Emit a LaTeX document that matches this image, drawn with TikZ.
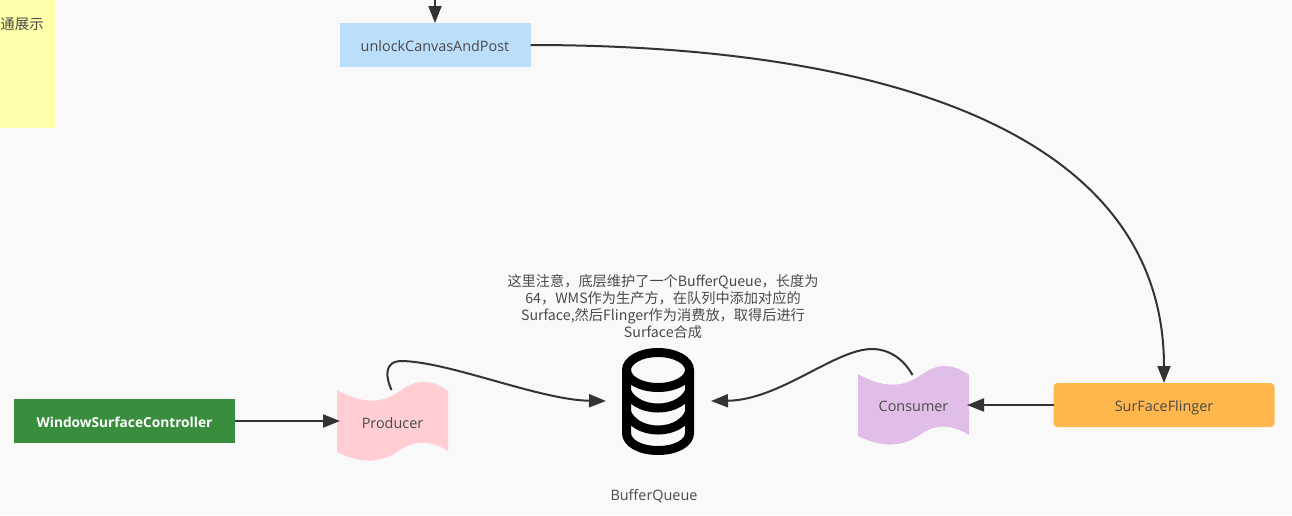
\documentclass[tikz,border=0pt]{standalone}
\usepackage{fontspec}
\setmainfont{Open Sans}
\newfontfamily\cjk{Noto Sans CJK SC}
\usetikzlibrary{arrows.meta}
\definecolor{bgc}{HTML}{F9F9F9}
\definecolor{ink}{HTML}{333333}
\definecolor{txt}{HTML}{4A4A4A}
\definecolor{notey}{HTML}{FFFFAA}
\definecolor{blueb}{HTML}{BBDEFB}
\definecolor{greenb}{HTML}{388E3C}
\definecolor{orangeb}{HTML}{FFB74D}
\definecolor{pinkb}{HTML}{FFCDD2}
\definecolor{purpleb}{HTML}{E1BEE7}
\tikzset{
  x=1pt,y=-1pt,
  lbl/.style={font=\fontsize{14.4}{17}\selectfont,text=txt,inner sep=0pt,outer sep=0pt,align=center},
  oneline/.style={lbl,text height=14pt,text depth=1pt},
  boxn/.style={oneline,minimum width=#1,minimum height=44pt},
  conn/.style={draw=ink,line width=2pt,-{Triangle[length=17pt,width=13pt,fill=ink]}},
}
\begin{document}
\begin{tikzpicture}
\useasboundingbox (0,0) rectangle (1292,515);
\fill[bgc] (0,0) rectangle (1292,515);
% note
\fill[notey] (0,0) rectangle (54.5,128);
\node[oneline,anchor=west] (note) at (0.5,22.5) {\cjk 通展示};
% boxes
\node[boxn=191pt,fill=blueb] (unlock) at (435,45) {unlockCanvasAndPost};
\node[boxn=221pt,fill=greenb,text=white,font=\fontsize{13.7}{16}\selectfont\bfseries] (wsc) at (124.5,421) {WindowSurfaceController};
\node[boxn=221pt,fill=orangeb,rounded corners=4pt] (sf) at (1164,405) {SurFaceFlinger};
% wave shapes
\fill[pinkb] (337,390) .. controls (365,406) and (385,402) .. (400,391) .. controls (415,380) and (430,378) .. (448,391) -- (448,451) .. controls (430,440) and (415,440) .. (400,450) .. controls (385,461) and (365,466) .. (337,452) -- cycle;
\fill[purpleb] (858,374) .. controls (886,390) and (906,386) .. (921,375) .. controls (936,364) and (951,362) .. (969,375) -- (969,435) .. controls (951,424) and (936,424) .. (921,434) .. controls (906,445) and (886,450) .. (858,436) -- cycle;
\node[oneline,text height=16pt,minimum width=111pt,minimum height=60pt] (prod) at (392.5,421) {Producer};
\node[oneline,minimum width=111pt,minimum height=60pt] (cons) at (913.5,405) {Consumer};
% database icon
\node[inner sep=0pt,minimum width=73pt,minimum height=108pt] (db) at (658,401) {};
\begin{scope}[line width=9pt,draw=black]
\draw (658,370) ellipse [x radius=31.5,y radius=17.5];
\draw (626.5,370) -- (626.5,433) .. controls (626.5,443) and (640,450.5) .. (658,450.5) .. controls (676,450.5) and (689.5,443) .. (689.5,433) -- (689.5,370);
\draw (626.5,391) .. controls (630,400) and (642,408) .. (658,408) .. controls (674,408) and (686,400) .. (689.5,391);
\draw (626.5,412) .. controls (630,422) and (642,430) .. (658,430) .. controls (674,430) and (686,422) .. (689.5,412);
\end{scope}
% labels
\node[lbl,font=\fontsize{14.2}{17}\selectfont] (desc) at (663,306.5) {\cjk 这里注意，底层维护了一个BufferQueue，长度为\\\cjk 64，WMS作为生产方，在队列中添加对应的\\\cjk Surface,然后Flinger作为消费放，取得后进行\\\cjk Surface合成};
\node[oneline] (bq) at (654,494) {BufferQueue};
% connectors
\coordinate (top) at (435,-5);
\draw[conn] (top) -- (unlock.north);
\draw[conn] (unlock.east) .. controls (880,45) and (1164,130) .. (sf.north);
\draw[conn,shorten >=-2pt] (sf.west) -- (cons.east);
\draw[conn,shorten >=-3pt] (wsc.east) -- (prod.west);
\draw[conn] (prod.north) ++(-1,-1) .. controls (386,378) and (383,361) .. (402,361) .. controls (450,362) and (540,400) .. (606,401);
\draw[conn] (cons.north) ++(-1,0) .. controls (903,358) and (888,349) .. (872,349) .. controls (835,349) and (780,400) .. (711,401);
\end{tikzpicture}
\end{document}
